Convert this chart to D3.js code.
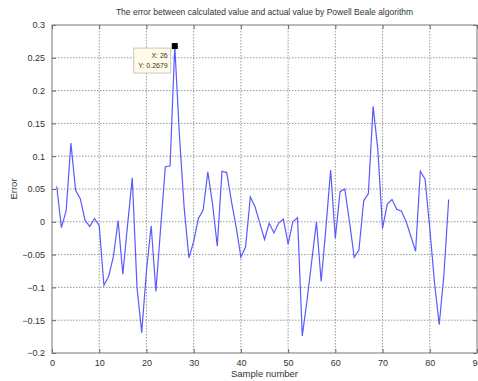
<!DOCTYPE html>
<html>
<head>
<meta charset="utf-8">
<script src="https://cdn.jsdelivr.net/npm/d3@7"></script>
<style>
  body { margin: 0; background: #fff; }
  text { font-family: "Liberation Sans", Arial, sans-serif; fill: #333; }
</style>
</head>
<body>
<div id="chart"></div>
<script>
// sample numbers and the error at each one
const samples = d3.range(1, 85);
const errors = [
  0.054, -0.009, 0.017, 0.12, 0.048, 0.035, 0.002, -0.007, 0.005, -0.006,
  -0.097, -0.083, -0.053, 0.002, -0.08, -0.005, 0.067, -0.10, -0.169, -0.075,
  -0.006, -0.106, -0.01, 0.084, 0.085, 0.2679, 0.13, 0.02, -0.055, -0.03,
  0.005, 0.018, 0.076, 0.027, -0.037, 0.077, 0.075, 0.031, -0.008, -0.054,
  -0.038, 0.038, 0.023, -0.002, -0.027, -0.002, -0.017, -0.002, 0.004, -0.034,
  0.0, 0.006, -0.174, -0.12, -0.06, 0.0, -0.091, -0.01, 0.079, -0.025,
  0.046, 0.05, 0.0, -0.054, -0.043, 0.032, 0.043, 0.176, 0.11, -0.01,
  0.027, 0.034, 0.019, 0.016, 0.0, -0.022, -0.045, 0.077, 0.065, -0.01,
  -0.093, -0.157, -0.08, 0.034
];
const xTicks = [0, 10, 20, 30, 40, 50, 60, 70, 80, 90];
const yTicks = [-0.2, -0.15, -0.1, -0.05, 0, 0.05, 0.1, 0.15, 0.2, 0.25, 0.3];
const tipIndex = 25; // data tip on sample 26

const svgwidth = 478, svgheight = 381;
const margin = { top: 25, bottom: 28, left: 52, right: 1 };
const width = svgwidth - margin.left - margin.right;
const height = svgheight - margin.top - margin.bottom;

const svg = d3.select('#chart').append('svg')
  .attr('width', svgwidth).attr('height', svgheight);
const g = svg.append('g').attr('transform', `translate(${margin.left},${margin.top})`);

const x = d3.scaleLinear().domain([0, 90]).range([0, width]);
const y = d3.scaleLinear().domain([-0.2, 0.3]).range([height, 0]);

// dotted grid
g.append('g').selectAll('line').data(xTicks.slice(1, -1)).join('line')
  .attr('x1', d => x(d)).attr('x2', d => x(d)).attr('y1', 0).attr('y2', height)
  .attr('stroke', '#999').attr('stroke-dasharray', '1.5,1.5');
g.append('g').selectAll('line').data(yTicks.slice(1, -1)).join('line')
  .attr('y1', d => y(d)).attr('y2', d => y(d)).attr('x1', 0).attr('x2', width)
  .attr('stroke', '#999').attr('stroke-dasharray', '1.5,1.5');

// axes (ticks pointing inward like matlab)
const xAxis = d3.axisBottom(x).tickValues(xTicks).tickSize(-4).tickPadding(7).tickFormat(d3.format('d'));
const yAxis = d3.axisLeft(y).tickValues(yTicks).tickSize(-4).tickPadding(7).tickFormat(d => d === 0 ? '0' : d3.format('')(d));
const gx = g.append('g').attr('transform', `translate(0,${height})`).call(xAxis);
const gy = g.append('g').call(yAxis);
[gx, gy].forEach(a => {
  a.select('.domain').remove();
  a.selectAll('line').attr('stroke', '#666');
  a.selectAll('text').style('font-size', '9px').attr('fill', '#333');
});
// top/right ticks
g.append('g').attr('transform', 'translate(0,0)').call(d3.axisTop(x).tickValues(xTicks).tickSize(-4).tickFormat(''))
  .call(a => { a.select('.domain').remove(); a.selectAll('line').attr('stroke', '#666'); });
g.append('g').attr('transform', `translate(${width},0)`).call(d3.axisRight(y).tickValues(yTicks).tickSize(-4).tickFormat(''))
  .call(a => { a.select('.domain').remove(); a.selectAll('line').attr('stroke', '#666'); });

g.append('rect').attr('width', width).attr('height', height)
  .attr('fill', 'none').attr('stroke', '#777').attr('stroke-width', 1);

// error line
const line = d3.line().x((d, i) => x(samples[i])).y(d => y(d));
g.append('path').datum(errors).attr('d', line)
  .attr('fill', 'none').attr('stroke', '#5a5aff').attr('stroke-width', 1.2);

// data tip
const px = x(samples[tipIndex]), py = y(errors[tipIndex]);
g.append('rect').attr('x', px - 3).attr('y', py - 3).attr('width', 6).attr('height', 6).attr('fill', '#000');
const tip = g.append('g').attr('transform', `translate(${px - 41},${py + 2})`);
tip.append('rect').attr('width', 37).attr('height', 25)
  .attr('fill', '#fffbe6').attr('stroke', '#bbb').attr('stroke-width', 0.8);
tip.append('text').attr('x', 34).attr('y', 10).attr('text-anchor', 'end')
  .style('font-size', '7px').text(`X: ${samples[tipIndex]}`);
tip.append('text').attr('x', 34).attr('y', 20).attr('text-anchor', 'end')
  .style('font-size', '7px').text(`Y: ${errors[tipIndex]}`);

// labels
svg.append('text').attr('x', margin.left + width / 2).attr('y', 15).attr('text-anchor', 'middle')
  .style('font-size', '8.5px').text('The error between calculated value and actual value by Powell Beale algorithm');
svg.append('text').attr('x', margin.left + width / 2).attr('y', 377).attr('text-anchor', 'middle')
  .style('font-size', '9.5px').text('Sample number');
svg.append('text').attr('transform', `translate(17,${margin.top + height / 2}) rotate(-90)`)
  .attr('text-anchor', 'middle').style('font-size', '9.5px').text('Error');
</script>
</body>
</html>
